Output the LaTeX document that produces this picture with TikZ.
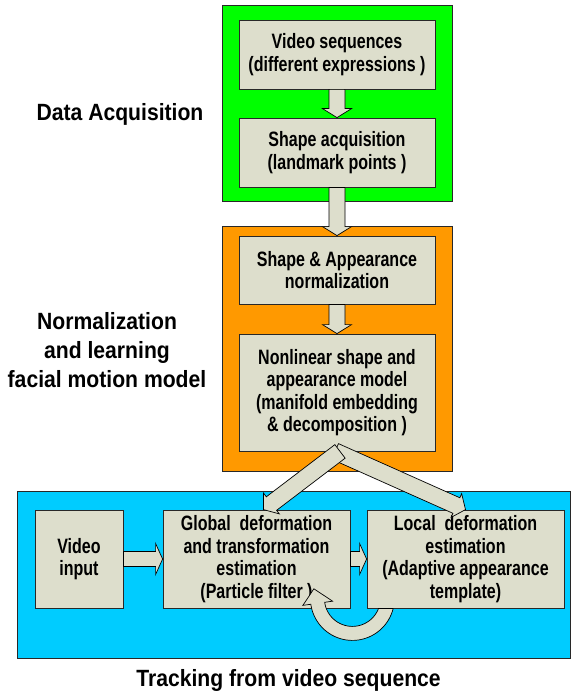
\documentclass[tikz,border=0pt]{standalone}
\usepackage{fontspec}
\newfontfamily\boxfont[FakeStretch=0.77]{Liberation Sans}
\newfontfamily\lblfont[FakeStretch=0.9]{Liberation Sans}
\usetikzlibrary{calc}
\definecolor{boxfill}{RGB}{221,222,204}
\definecolor{acqgreen}{RGB}{0,255,0}
\definecolor{normorange}{RGB}{255,153,0}
\definecolor{trackblue}{RGB}{0,204,255}
\definecolor{edge}{RGB}{40,40,40}
\tikzset{
  panel/.style={draw=edge, line width=0.9pt, inner sep=0pt},
  pbox/.style={draw=edge, line width=0.8pt, fill=boxfill, inner sep=0pt, align=center,
    font=\boxfont\bfseries\fontsize{20.8}{22.5}\selectfont},
  lbl/.style={inner sep=0pt, align=center, font=\lblfont\bfseries\fontsize{23.5}{29}\selectfont},
  barrowstyle/.style={fill=boxfill, draw=black, line width=0.7pt, line join=miter},
}
\newcommand\blockarrow[5]{%
  \path (#1) coordinate (ba-s) (#2) coordinate (ba-t);
  \path ($(ba-t)!#5!(ba-s)$) coordinate (ba-b);
  \filldraw[barrowstyle] ($(ba-s)!#3!90:(ba-t)$) -- ($(ba-b)!#3!-90:(ba-s)$)
    -- ($(ba-b)!#4!-90:(ba-s)$) -- (ba-t) -- ($(ba-b)!#4!90:(ba-s)$)
    -- ($(ba-b)!#3!90:(ba-s)$) -- ($(ba-s)!#3!-90:(ba-t)$) -- cycle;}
\begin{document}
\begin{tikzpicture}[x=1pt,y=-1pt]
\useasboundingbox (0,0) rectangle (571,695);
% panels
\node[panel, fill=acqgreen, minimum width=230pt, minimum height=196pt] (acq) at (337,103) {};
\node[panel, fill=normorange, minimum width=230pt, minimum height=245pt] (norm) at (337,348.5) {};
\node[panel, fill=trackblue, minimum width=553pt, minimum height=167pt] (track) at (293.5,574.5) {};
% boxes
\node[pbox, minimum width=196pt, minimum height=69pt] (vseq) at (337,54.5) {Video sequences\\(different expressions )};
\node[pbox, minimum width=196pt, minimum height=69pt] (sacq) at (337,152.5) {Shape acquisition\\(landmark points )};
\node[pbox, minimum width=196pt, minimum height=68pt] (snorm) at (337,270) {Shape \& Appearance\\normalization};
\node[pbox, minimum width=196pt, minimum height=117pt] (nonlin) at (337,392.5) {Nonlinear shape and\\appearance model\\(manifold embedding\\\& decomposition )};
\node[pbox, minimum width=88pt, minimum height=98pt] (vin) at (79,559) {Video\\input};
\node[pbox, minimum width=187pt, minimum height=98pt] (glob) at (256.5,559) {Global\ \ deformation\\and transformation\\estimation\\(Particle filter )};
\node[pbox, minimum width=197pt, minimum height=98pt] (loc) at (465.5,559) {Local\ \ deformation\\estimation\\(Adaptive appearance\\template)};
% labels
\node[lbl] (lacq) at (120,114) {Data Acquisition};
\node[lbl] (lnorm) at (107,350) {Normalization\\and learning\\facial motion model};
\node[lbl] (ltrack) at (288.5,680) {Tracking from video sequence};
% block arrows
\blockarrow{vseq.south}{sacq.north}{8pt}{14.5pt}{9pt}
\blockarrow{sacq.south}{snorm.north}{8pt}{14.5pt}{9pt}
\blockarrow{snorm.south}{nonlin.north}{8pt}{14.5pt}{9pt}
\blockarrow{vin.east}{glob.west}{7.5pt}{15.5pt}{7pt}
\blockarrow{glob.east}{loc.west}{7.5pt}{15.5pt}{7pt}
\blockarrow{$(nonlin.south)+(-2,0)$}{loc.north}{8.5pt}{13pt}{10pt}
\blockarrow{$(nonlin.south)+(3,0)$}{$(glob.north)+(7,0)$}{8.5pt}{13pt}{10pt}
% loop arrow from local back to global
\coordinate (loopc) at ($(glob.south east)+(2,-10)$);
\begin{scope}[shift={(loopc)}]
\filldraw[barrowstyle]
  plot[domain=13.77:172, samples=40] ({42*cos(\x)},{42*sin(\x)})
  -- ({50*cos(172)},{50*sin(172)})
  -- ({35*cos(172)-15*sin(165)},{35*sin(172)+15*cos(165)})
  -- ({20*cos(172)},{20*sin(172)})
  -- plot[domain=172:20.92, samples=40] ({28*cos(\x)},{28*sin(\x)})
  -- cycle;
\end{scope}
\end{tikzpicture}
\end{document}
